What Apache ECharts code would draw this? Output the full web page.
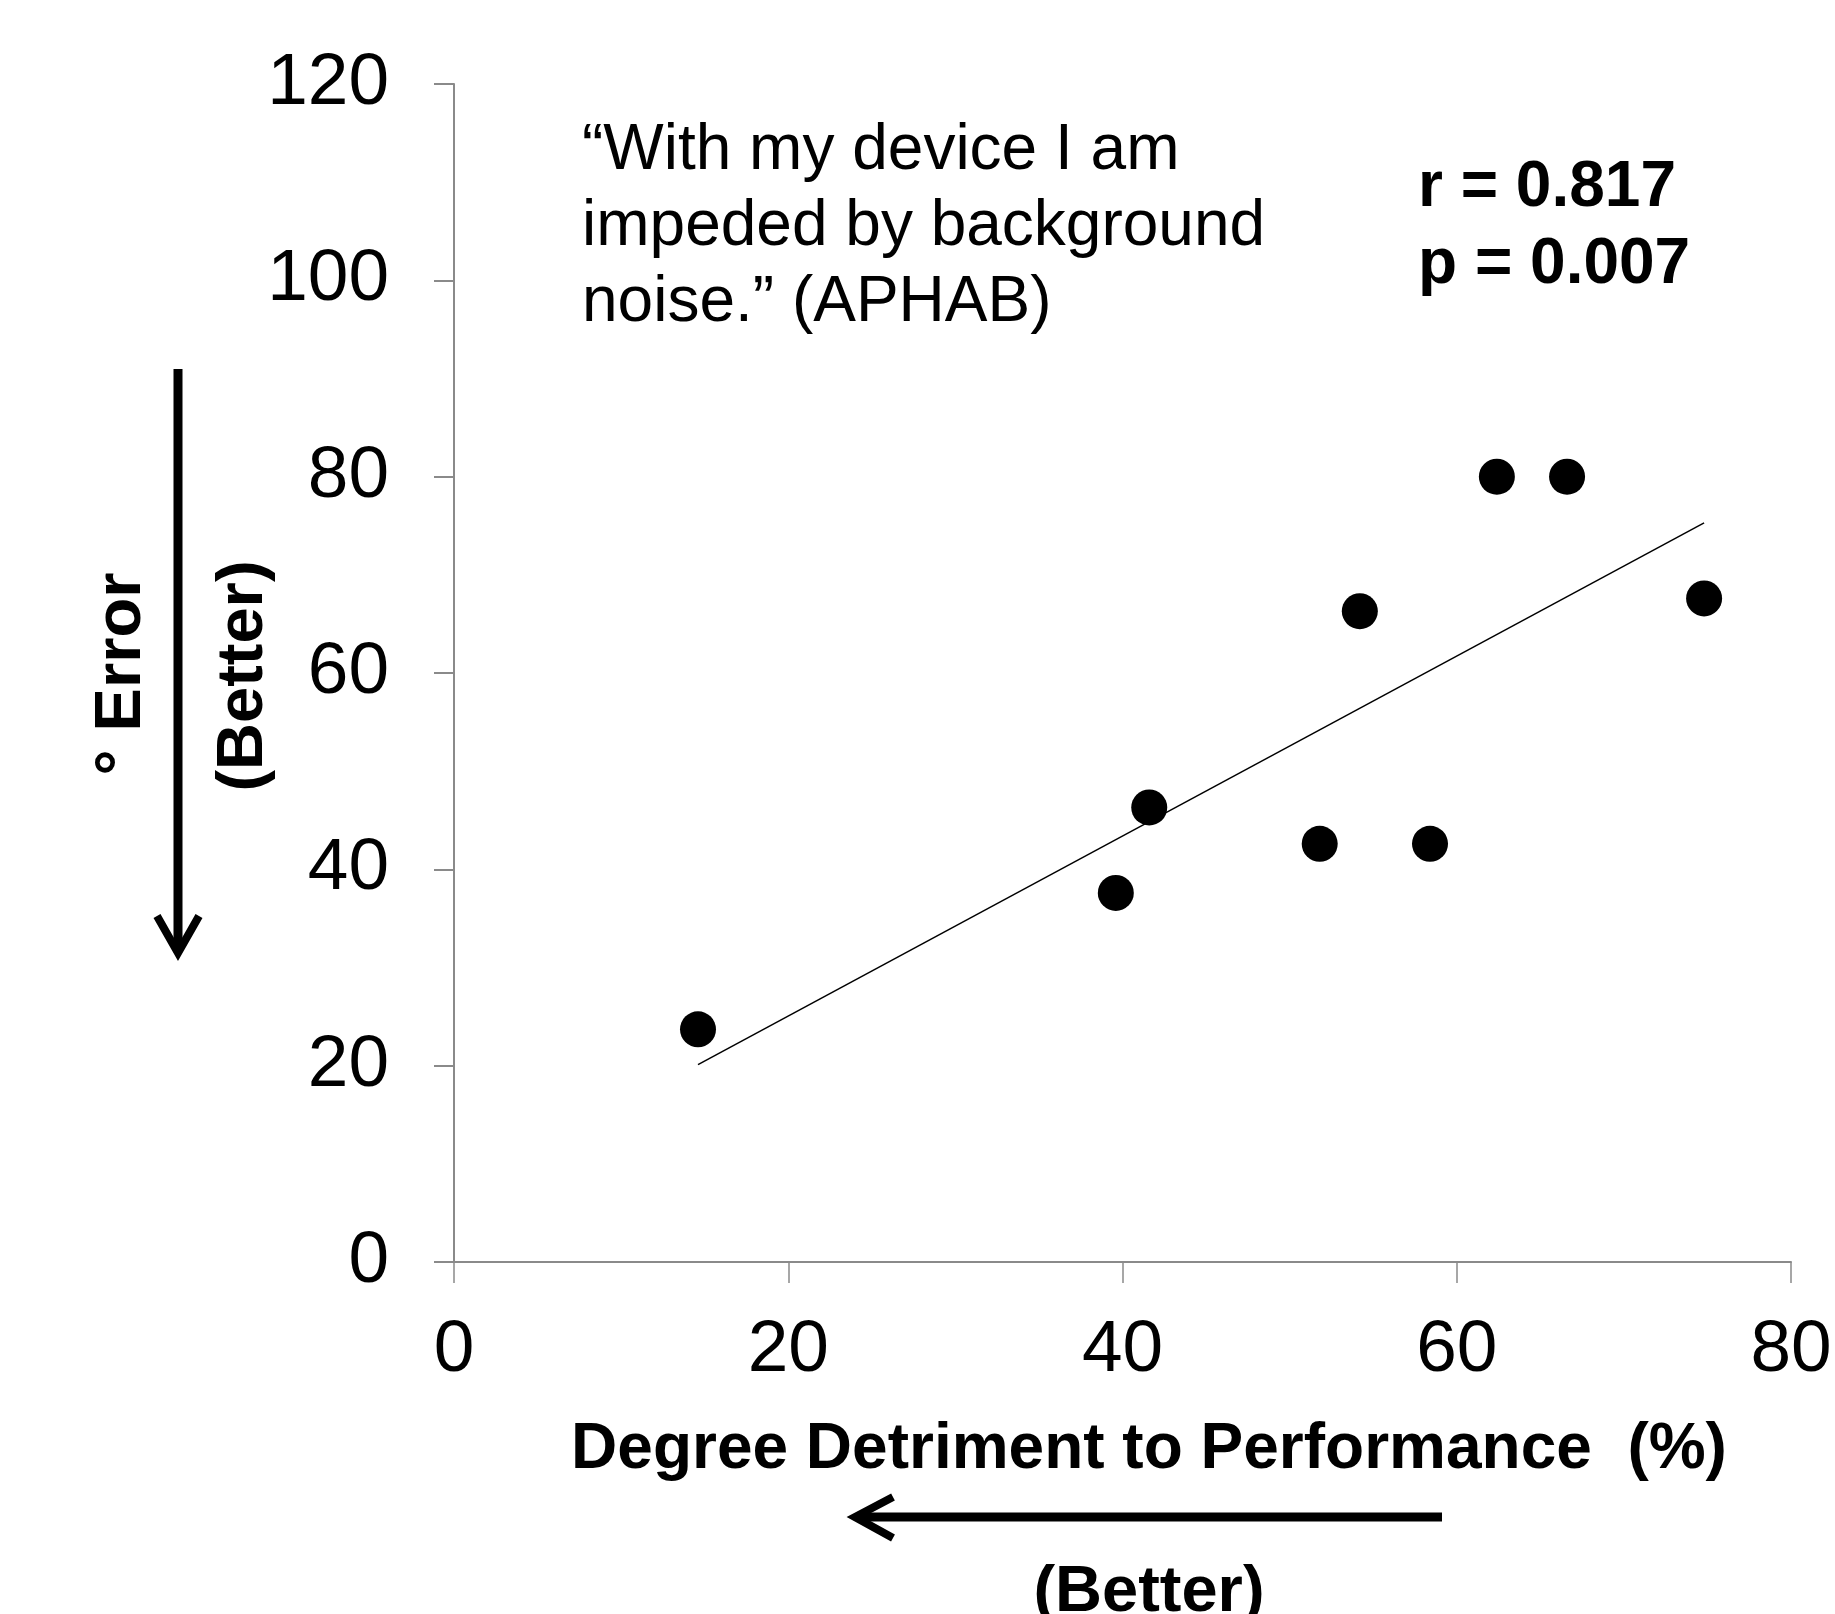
<!DOCTYPE html>
<html>
<head>
<meta charset="utf-8">
<script src="https://cdn.jsdelivr.net/npm/echarts@6/dist/echarts.min.js"></script>
<style>
  html, body { margin: 0; padding: 0; background: #fff; }
  #main { width: 1835px; height: 1614px; }
</style>
</head>
<body>
<div id="main"></div>
<script>
// data
var detriment = [14.6, 39.6, 41.6, 51.8, 54.2, 58.4, 62.4, 66.6, 74.8];
var errorDeg = [23.7, 37.6, 46.3, 42.6, 66.3, 42.6, 80.0, 80.0, 67.6];
var trendX = [14.6, 74.8];
var trendY = [20.1, 75.3];
var xTicks = [0, 20, 40, 60, 80];
var yTicks = [0, 20, 40, 60, 80, 100, 120];

var points = detriment.map(function (x, i) { return [x, errorDeg[i]]; });
var trend = trendX.map(function (x, i) { return [x, trendY[i]]; });

var FONT = '"Liberation Sans", Arial, sans-serif';
var axisGray = '#8a8a8a';

var myChart = echarts.init(document.getElementById('main'));

var option = {
    backgroundColor: '#fff',
    animation: false,
    grid: { left: 454, right: 44, top: 84, bottom: 352 },
    xAxis: {
        type: 'value',
        min: xTicks[0],
        max: xTicks[xTicks.length - 1],
        interval: 20,
        splitLine: { show: false },
        axisLine: { show: true, lineStyle: { color: axisGray, width: 2 } },
        axisTick: { show: true, inside: false, length: 21, lineStyle: { color: axisGray, width: 1.5 } },
        axisLabel: { margin: 52, fontSize: 73, color: '#000', fontFamily: FONT }
    },
    yAxis: {
        type: 'value',
        min: yTicks[0],
        max: yTicks[yTicks.length - 1],
        interval: 20,
        splitLine: { show: false },
        axisLine: { show: true, lineStyle: { color: axisGray, width: 2 } },
        axisTick: { show: true, inside: false, length: 20, lineStyle: { color: axisGray, width: 2 } },
        axisLabel: { margin: 65, fontSize: 73, color: '#000', fontFamily: FONT }
    },
    series: [
        {
            type: 'line',
            data: trend,
            showSymbol: false,
            lineStyle: { color: '#000', width: 1.5 },
            z: 1
        },
        {
            type: 'scatter',
            data: points,
            symbol: 'circle',
            symbolSize: 36,
            itemStyle: { color: '#000', opacity: 1 },
            z: 2
        }
    ],
    graphic: [
        // quote annotation
        {
            type: 'text', x: 582, y: 227,
            style: {
                text: '\u201cWith my device I am\nimpeded by background\nnoise.\u201d (APHAB)',
                font: '64px ' + FONT, fill: '#000',
                lineHeight: 76, align: 'left', verticalAlign: 'middle'
            }
        },
        // stats
        {
            type: 'text', x: 1418, y: 227,
            style: {
                text: 'r = 0.817\np = 0.007',
                font: 'bold 64px ' + FONT, fill: '#000',
                lineHeight: 77, align: 'left', verticalAlign: 'middle'
            }
        },
        // x axis title
        {
            type: 'text', x: 1149, y: 1450,
            style: {
                text: 'Degree Detriment to Performance  (%)',
                font: 'bold 64px ' + FONT, fill: '#000',
                align: 'center', verticalAlign: 'middle'
            }
        },
        // bottom (Better)
        {
            type: 'text', x: 1149, y: 1593,
            style: {
                text: '(Better)',
                font: 'bold 65px ' + FONT, fill: '#000',
                align: 'center', verticalAlign: 'middle'
            }
        },
        // rotated y titles
        {
            type: 'text', x: 122, y: 674, rotation: Math.PI / 2,
            style: {
                text: '\u00b0 Error',
                font: 'bold 65px ' + FONT, fill: '#000',
                align: 'center', verticalAlign: 'middle'
            }
        },
        {
            type: 'text', x: 244, y: 676, rotation: Math.PI / 2,
            style: {
                text: '(Better)',
                font: 'bold 65px ' + FONT, fill: '#000',
                align: 'center', verticalAlign: 'middle'
            }
        },
        // vertical arrow
        {
            type: 'line',
            shape: { x1: 178, y1: 369, x2: 178, y2: 950 },
            style: { stroke: '#000', lineWidth: 9 }
        },
        {
            type: 'polyline',
            shape: { points: [[157, 916], [178, 953], [199, 916]] },
            style: { stroke: '#000', lineWidth: 8, fill: null, lineJoin: 'miter' }
        },
        // horizontal arrow
        {
            type: 'line',
            shape: { x1: 858, y1: 1517, x2: 1442, y2: 1517 },
            style: { stroke: '#000', lineWidth: 9 }
        },
        {
            type: 'polyline',
            shape: { points: [[893, 1497], [855, 1517], [893, 1538]] },
            style: { stroke: '#000', lineWidth: 8, fill: null, lineJoin: 'miter' }
        }
    ]
};

myChart.setOption(option);
</script>
</body>
</html>
